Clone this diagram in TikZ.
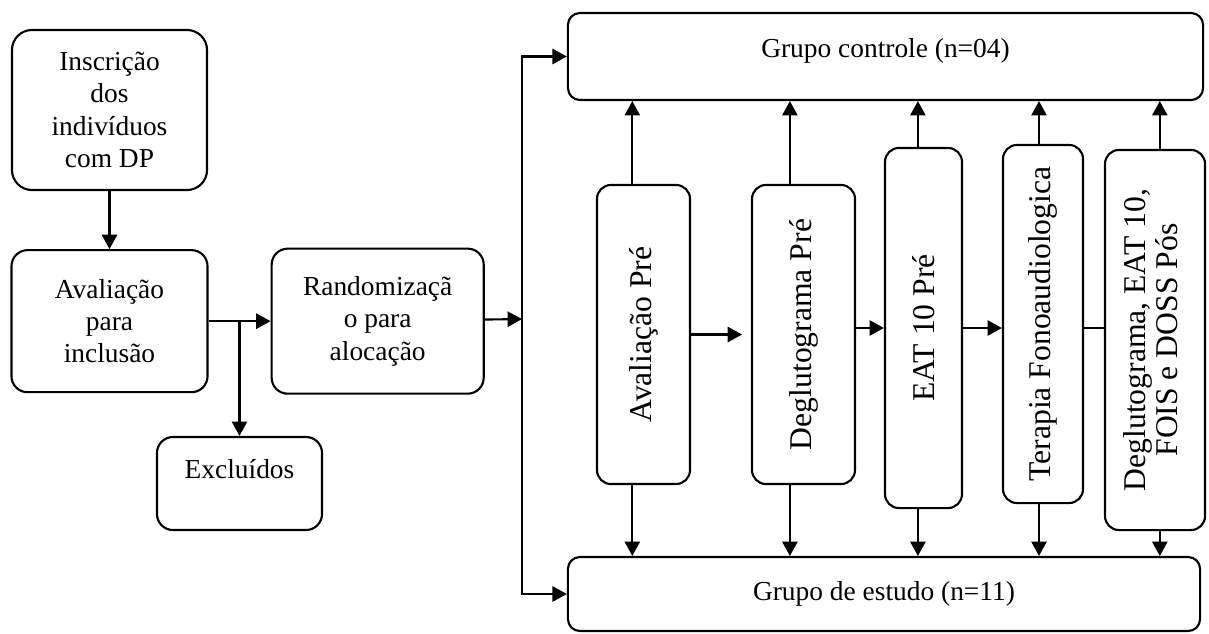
\documentclass[tikz,border=0pt]{standalone}
\usepackage{fontspec}
\setmainfont{Liberation Serif}
\usetikzlibrary{arrows.meta}
\usetikzlibrary{positioning}

\begin{document}
\begin{tikzpicture}[
        x=0.025cm, y=-0.025cm,
        every node/.append style={font=\fontsize{19.5}{23}\selectfont},
        caixa/.style={draw=black, line width=1.5pt, rounded corners=.4cm, align=center, inner sep=2pt},
        vert/.style={caixa, rounded corners=.35cm, font=\fontsize{22.5}{23}\selectfont},
        seta/.style={-{Triangle[length=.36cm,width=.38cm]}, line width=1.5pt}
    ]
        \useasboundingbox (0,0) rectangle (1209,633);

        \node (inscr) [caixa, rounded corners=.5cm, minimum width=4.875cm, minimum height=4cm] at (109.5,110) {Inscrição\\dos\\indivíduos\\com DP};
        \node (aval) [caixa, below=1.45cm of inscr, minimum width=4.9cm, minimum height=3.55cm] {Avaliação\\para\\inclusão};
        \node (rand) [caixa, right=1.55cm of aval, minimum width=5.3cm, minimum height=3.625cm] {Randomizaçã\\o para\\alocação};
        \node (excl) [caixa, minimum width=4.125cm, minimum height=2.325cm, text depth=.72cm] at (239.5,483.5) {Excluídos};

        \node (ctrl) [caixa, rounded corners=.3cm, minimum width=15.875cm, minimum height=2.175cm, text depth=.45cm] at (885.5,56.5) {Grupo controle (n=04)};
        \node (estudo) [caixa, rounded corners=.3cm, minimum width=15.8cm, minimum height=1.85cm] at (884,594) {Grupo de estudo (n=11)};

        \node (avpre) [vert, minimum width=2.325cm, minimum height=7.475cm] at (643.5,334.5) {\rotatebox{90}{Avaliação Pré}};
        \node (degpre) [vert, minimum width=2.575cm, minimum height=7.475cm] at (803.5,334.5) {\rotatebox{90}{Deglutograma Pré}};
        \node (eat) [vert, minimum width=1.925cm, minimum height=9cm] at (923.5,328) {\rotatebox{90}{EAT 10 Pré}};
        \node (terapia) [vert, minimum width=2cm, minimum height=8.95cm] at (1043,324) {\rotatebox{90}{Terapia Fonoaudiologica}};
        \node (degpos) [vert, minimum width=2.5cm, minimum height=9.5cm] at (1155,340) {\rotatebox{90}{\begin{tabular}{@{}c@{}}Deglutograma, EAT 10,\\FOIS e DOSS Pós\end{tabular}}};

        \coordinate (tronco) at (522,319);

        \draw [seta] (inscr) -- (aval);
        \draw [seta] (aval) -- (rand);
        \draw [seta] (aval.east -| excl.north) -- (excl);
        \draw [seta] (rand) -- (tronco);
        \draw [seta] (tronco) |- (ctrl);
        \draw [seta] (tronco) |- (estudo);

        \draw [seta, shorten >=.22cm] (avpre) -- (degpre);
        \draw [seta] (degpre.east |- eat) -- (eat);
        \draw [seta] (eat) -- (eat -| terapia.west);
        \draw [line width=1.5pt] (terapia.east |- eat) -- (degpos.west |- eat);

        \draw [seta] ([xshift=-.28cm]avpre.north) -- ([xshift=-.28cm]avpre.north |- ctrl.south);
        \draw [seta] ([xshift=-.34cm]degpre.north) -- ([xshift=-.34cm]degpre.north |- ctrl.south);
        \draw [seta] ([xshift=-.14cm]eat.north) -- ([xshift=-.14cm]eat.north |- ctrl.south);
        \draw [seta] ([xshift=-.1cm]terapia.north) -- ([xshift=-.1cm]terapia.north |- ctrl.south);
        \draw [seta] ([xshift=.12cm]degpos.north) -- ([xshift=.12cm]degpos.north |- ctrl.south);

        \draw [seta] ([xshift=-.28cm]avpre.south) -- ([xshift=-.28cm]avpre.south |- estudo.north);
        \draw [seta] ([xshift=-.34cm]degpre.south) -- ([xshift=-.34cm]degpre.south |- estudo.north);
        \draw [seta] ([xshift=-.14cm]eat.south) -- ([xshift=-.14cm]eat.south |- estudo.north);
        \draw [seta] ([xshift=-.1cm]terapia.south) -- ([xshift=-.1cm]terapia.south |- estudo.north);
        \draw [seta] ([xshift=.12cm]degpos.south) -- ([xshift=.12cm]degpos.south |- estudo.north);
    \end{tikzpicture}
\end{document}
